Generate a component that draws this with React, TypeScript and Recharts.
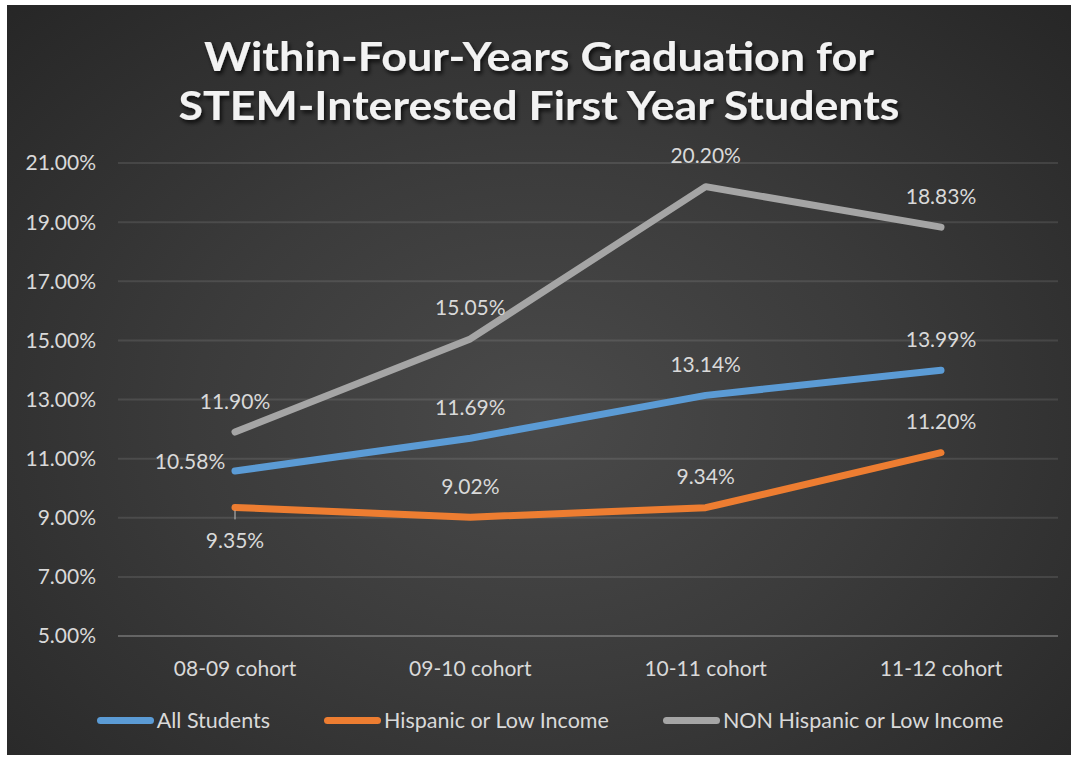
import { LineChart, Line, XAxis, YAxis, CartesianGrid, Legend, LabelList } from 'recharts'

const COHORTS = ['08-09 cohort', '09-10 cohort', '10-11 cohort', '11-12 cohort']
const ALL_STUDENTS = [10.58, 11.69, 13.14, 13.99]
const HISPANIC_LOW_INCOME = [9.35, 9.02, 9.34, 11.2]
const NON_HISPANIC_LOW_INCOME = [11.9, 15.05, 20.2, 18.83]
const Y_TICKS = [5, 7, 9, 11, 13, 15, 17, 19, 21]
const TITLE_LINES = ['Within-Four-Years Graduation for', 'STEM-Interested First Year Students']

const SERIES = [
  { key: 'all', name: 'All Students', color: '#5b9bd5' },
  { key: 'hisp', name: 'Hispanic or Low Income', color: '#ed7d31' },
  { key: 'non', name: 'NON Hispanic or Low Income', color: '#a5a5a5' },
]

const data = COHORTS.map((cohort, i) => ({
  cohort,
  all: ALL_STUDENTS[i],
  hisp: HISPANIC_LOW_INCOME[i],
  non: NON_HISPANIC_LOW_INCOME[i],
}))

const FONT = 'Lato, "Open Sans", sans-serif'
const TEXT = '#d9d9d9'
const W = 1064
const H = 750

// label placement per point, [dx, dy] from the marker
const ABOVE: [number, number] = [0, -32]
const PLACEMENT: Record<string, [number, number][]> = {
  all: [[-45, -11], ABOVE, ABOVE, ABOVE],
  hisp: [[0, 32], ABOVE, ABOVE, ABOVE],
  non: [ABOVE, ABOVE, ABOVE, ABOVE],
}

const makeLabel = (key: string) => (props: any) => {
  const { x, y, value, index } = props
  const [dx, dy] = PLACEMENT[key][index]
  return (
    <g>
      {dy > 0 && (
        <line x1={x} x2={x} y1={y + 3} y2={y + 12} stroke="#bfbfbf" strokeWidth={1} />
      )}
      <text
        x={x + dx}
        y={y + dy}
        textAnchor="middle"
        dominantBaseline="central"
        fill={TEXT}
        fontSize={21}
        fontFamily={FONT}
      >
        {value.toFixed(2)}%
      </text>
    </g>
  )
}

function LegendContent() {
  return (
    <div style={{ display: 'flex', justifyContent: 'center', gap: 54, fontFamily: FONT, fontSize: 21.5, color: TEXT, paddingLeft: 24 }}>
      {SERIES.map((s) => (
        <div key={s.key} style={{ display: 'flex', alignItems: 'center' }}>
          <span style={{ display: 'inline-block', width: 57, height: 7, borderRadius: 4, background: s.color, marginRight: 3 }} />
          {s.name}
        </div>
      ))}
    </div>
  )
}

export default function App() {
  return (
    <div style={{ position: 'absolute', left: 7, top: 5, width: W, height: H, background: 'radial-gradient(ellipse 72% 78% at 50% 55%, #4a4a4a 0%, #3b3b3b 45%, #262626 100%)' }}>
      <svg width={W} height={150} style={{ position: 'absolute', left: 0, top: 0 }}>
        <defs>
          <filter id="titleShadow" x="-5%" y="-20%" width="110%" height="150%">
            <feDropShadow dx="2" dy="3" stdDeviation="2" floodColor="#000" floodOpacity="0.75" />
          </filter>
        </defs>
        {TITLE_LINES.map((line, i) => (
          <text
            key={line}
            x={W / 2}
            y={66 + i * 49}
            textAnchor="middle"
            fill="#f2f2f2"
            fontSize={40}
            fontWeight={700}
            fontFamily={FONT}
            textLength={i === 0 ? 670 : 721}
            lengthAdjust="spacingAndGlyphs"
            filter="url(#titleShadow)"
          >
            {line}
          </text>
        ))}
      </svg>
      <LineChart
        width={W}
        height={H}
        data={data}
        margin={{ top: 158, right: 13, left: 11, bottom: 0 }}
        style={{ position: 'absolute', left: 0, top: 0 }}
      >
        <CartesianGrid vertical={false} stroke="rgba(255,255,255,0.1)" strokeWidth={2} />
        <XAxis
          dataKey="cohort"
          height={93}
          padding={{ left: 117, right: 117 }}
          tickSize={0}
          tickMargin={25}
          axisLine={{ stroke: 'rgba(255,255,255,0.16)', strokeWidth: 2 }}
          tick={{ fill: TEXT, fontSize: 21, fontFamily: FONT }}
        />
        <YAxis
          width={100}
          domain={[5, 21]}
          ticks={Y_TICKS}
          tickSize={0}
          tickMargin={22}
          axisLine={false}
          tick={{ fill: TEXT, fontSize: 21, fontFamily: FONT }}
          tickFormatter={(v: number) => `${v.toFixed(2)}%`}
        />
        <Legend
          verticalAlign="bottom"
          content={<LegendContent />}
          wrapperStyle={{ bottom: 22 }}
        />
        {SERIES.map((s) => (
          <Line
            key={s.key}
            dataKey={s.key}
            name={s.name}
            stroke={s.color}
            strokeWidth={7}
            strokeLinecap="round"
            strokeLinejoin="round"
            dot={false}
            activeDot={false}
            isAnimationActive={false}
          >
            <LabelList dataKey={s.key} content={makeLabel(s.key)} />
          </Line>
        ))}
      </LineChart>
    </div>
  )
}
